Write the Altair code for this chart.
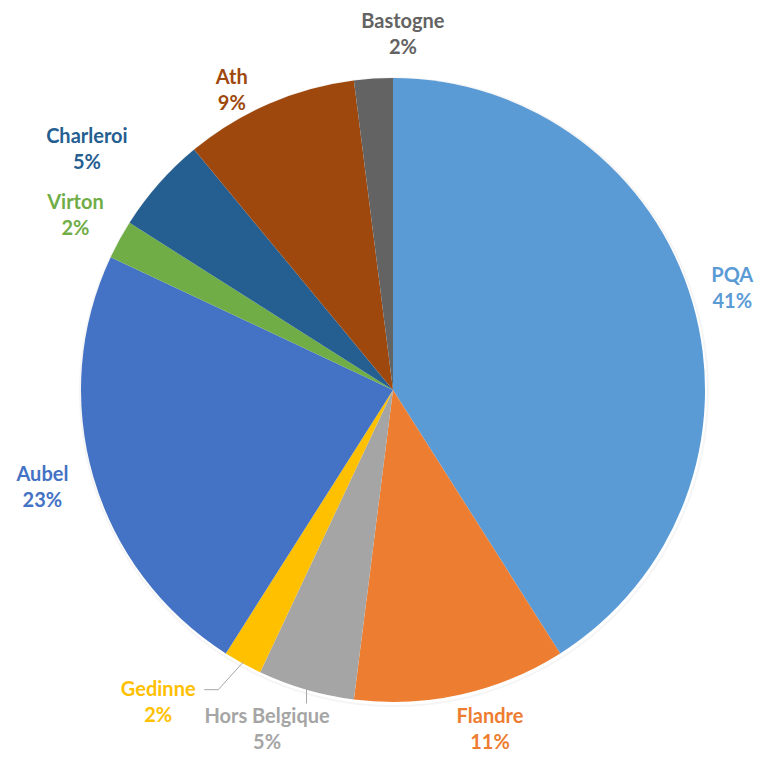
import math
import altair as alt
import pandas as pd

# ---- data ----
names = ["PQA", "Flandre", "Hors Belgique", "Gedinne", "Aubel", "Virton", "Charleroi", "Ath", "Bastogne"]
values = [41, 11, 5, 2, 23, 2, 5, 9, 2]
pct_labels = ["41%", "11%", "5%", "2%", "23%", "2%", "5%", "9%", "2%"]
colors = ["#5B9BD5", "#ED7D31", "#A5A5A5", "#FFC000", "#4472C4", "#70AD47", "#255E91", "#9E480E", "#636363"]

# ---- layout ----
CX, CY, R = 385, 382, 312
label_dtheta = [-0.4, -3.3, 4.1, 8.1, 0.6, -0.1, -3.3, -4.9, 5.2]
label_r = [354, 354, 363, 391, 364, 362, 389, 340, 355]

total = sum(values)
cum = 0
rows = []
for i, (n, v) in enumerate(zip(names, values)):
    mid = (cum + v / 2) / total * 360
    cum += v
    a = math.radians(mid + label_dtheta[i])
    rows.append({
        "idx": i, "name": n, "value": v, "pct": pct_labels[i], "mid": mid,
        "lx": CX + label_r[i] * math.sin(a),
        "ly": CY - label_r[i] * math.cos(a),
    })
df = pd.DataFrame(rows)

def polar(angle_deg, r):
    a = math.radians(angle_deg)
    return CX + r * math.sin(a), CY - r * math.cos(a)

# leader lines (Gedinne, Hors Belgique)
lines = []
g = df[df.name == "Gedinne"].iloc[0]
p0 = polar(g["mid"], R - 2)
lines += [
    {"grp": "Gedinne", "o": 0, "x": p0[0], "y": p0[1]},
    {"grp": "Gedinne", "o": 1, "x": g["lx"] + 60, "y": g["ly"] - 13},
    {"grp": "Gedinne", "o": 2, "x": g["lx"] + 46, "y": g["ly"] - 13},
]
h = df[df.name == "Hors Belgique"].iloc[0]
p1 = polar(h["mid"], R - 2)
lines += [
    {"grp": "HB", "o": 0, "x": p1[0], "y": p1[1]},
    {"grp": "HB", "o": 1, "x": p1[0], "y": h["ly"] - 27},
]
ldf = pd.DataFrame(lines)

color_scale = alt.Scale(domain=names, range=colors)

shadow = alt.Chart(pd.DataFrame({"a": [0, 1]})).mark_arc(
    theta=0, theta2=2 * math.pi, color="#000000", opacity=0.04
).encode(
    x=alt.value(CX + 1),
    y=alt.value(CY + 2),
    radius=alt.Radius("a:Q", scale=alt.Scale(domain=[0, 1], range=[R + 1, R + 3]))
)

pie = alt.Chart(df).mark_arc(outerRadius=R).encode(
    theta=alt.Theta("value:Q", stack=True),
    color=alt.Color("name:N", scale=color_scale, legend=None),
    order=alt.Order("idx:Q"),
    x=alt.value(CX),
    y=alt.value(CY),
)

leaders = alt.Chart(ldf).mark_line(color="#A6A6A6", strokeWidth=1).encode(
    x=alt.X("x:Q", scale=None, axis=None),
    y=alt.Y("y:Q", scale=None, axis=None),
    detail="grp:N",
    order="o:Q",
)

txt_common = dict(font="Lato", fontWeight="bold", fontSize=20, baseline="middle", align="center")
name_txt = alt.Chart(df).mark_text(dy=-13, **txt_common).encode(
    x=alt.X("lx:Q", scale=None, axis=None),
    y=alt.Y("ly:Q", scale=None, axis=None),
    text="name:N",
    color=alt.Color("name:N", scale=color_scale, legend=None),
)
pct_txt = alt.Chart(df).mark_text(dy=13, **txt_common).encode(
    x=alt.X("lx:Q", scale=None, axis=None),
    y=alt.Y("ly:Q", scale=None, axis=None),
    text="pct:N",
    color=alt.Color("name:N", scale=color_scale, legend=None),
)

chart = alt.layer(shadow, pie, leaders, name_txt, pct_txt).properties(
    width=747, height=745, padding=0, autosize=alt.AutoSizeParams(type="none")
).configure_view(stroke=None, fill="white")

chart.save("out.html", embed_options={"renderer": "svg", "actions": False})
